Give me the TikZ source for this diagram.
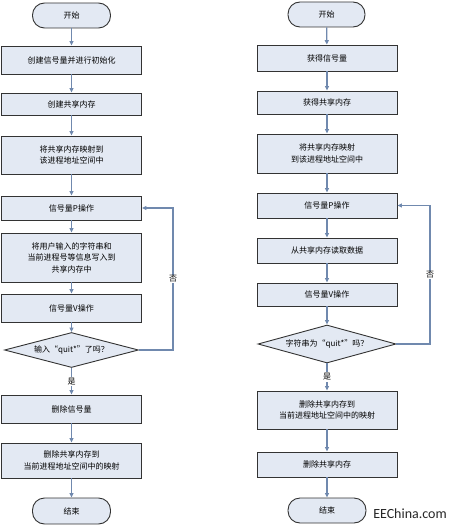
\documentclass[tikz,border=0pt]{standalone}
\usepackage{fontspec}
\newfontfamily\cjk{Noto Sans CJK SC}
\newfontfamily\logofont{Carlito}
\usetikzlibrary{arrows.meta, shapes.geometric}
\definecolor{cfill}{HTML}{E3E9F3}
\definecolor{cedge}{HTML}{333333}
\definecolor{cline}{HTML}{7089AE}
\tikzset{
  every picture/.style={font=\cjk\fontsize{8}{11.5}\selectfont, line width=0.9pt},
  box/.style={draw=cedge, fill=cfill, align=center, inner sep=2pt, minimum width=140pt, minimum height=#1},
  box/.default=26pt,
  term/.style={draw=cedge, fill=cfill, rounded corners=12pt, minimum width=78pt, minimum height=25pt},
  decision/.style={draw=cedge, fill=cfill, diamond, aspect=4, inner sep=0pt, minimum width=136pt, minimum height=36pt},
  arrow/.style={-{Triangle[length=4.5pt, width=4pt]}, draw=cline, line width=1.2pt},
  tag/.style={fill=white, inner sep=1pt},
  logo/.style={font=\logofont\fontsize{14}{14}\selectfont, text=black!85},
}

\begin{document}
\begin{tikzpicture}[x=1pt, y=-1pt]
  \useasboundingbox (0,0) rectangle (455,527);
  % left: writer
  \node[term] (ls) at (71.5,15.5) {开始};
  \node[box=28pt] (l1) at (71.5,60) {创建信号量并进行初始化};
  \node[box=22pt] (l2) at (71.5,104) {创建共享内存};
  \node[box=38pt] (l3) at (71.5,155) {将共享内存映射到\\该进程地址空间中};
  \node[box=24pt] (l4) at (71.5,208) {信号量P操作};
  \node[box=49pt] (l5) at (71.5,257.5) {将用户输入的字符串和\\当前进程号等信息写入到\\共享内存中};
  \node[box=28pt] (l6) at (71.5,308) {信号量V操作};
  \node[decision, minimum width=134pt, minimum height=35pt] (ld) at (71.5,350) {输入“quit*”了吗？};
  \node[box=28pt] (l7) at (71.5,409) {删除信号量};
  \node[box=35pt] (l8) at (71.5,460.5) {删除共享内存到\\当前进程地址空间中的映射};
  \node[term, minimum height=26pt] (le) at (71.5,511) {结束};
  \coordinate (lback) at (173,350);
  \draw[arrow] (ls) -- (l1);
  \draw[arrow] (l1) -- (l2);
  \draw[arrow] (l2) -- (l3);
  \draw[arrow] (l3) -- (l4);
  \draw[arrow] (l4) -- (l5);
  \draw[arrow] (l5) -- (l6);
  \draw[arrow] (l6) -- (ld);
  \draw[arrow] (ld) -- node[tag] (lyes) {是} (l7);
  \draw[arrow] (l7) -- (l8);
  \draw[arrow] (l8) -- (le);
  \draw[arrow] (ld.east) -- (lback) |- (l4.east);
  \node[tag] (lno) at (173,279) {否};
  % right: reader
  \node[term, minimum width=77pt] (rs) at (326.5,14.5) {开始};
  \node[box=26pt] (r1) at (327,58) {获得信号量};
  \node[box=23pt] (r2) at (327,102.5) {获得共享内存};
  \node[box=39pt] (r3) at (327,153.5) {将共享内存映射\\到该进程地址空间中};
  \node[box=25pt] (r4) at (327,205.5) {信号量P操作};
  \node[box=25pt] (r5) at (327,250.5) {从共享内存读取数据};
  \node[box=23pt] (r6) at (327,294.5) {信号量V操作};
  \node[decision, minimum width=138pt, minimum height=38pt] (rd) at (327,344) {字符串为“quit*”吗？};
  \node[box=38pt] (r7) at (327,410) {删除共享内存到\\当前进程地址空间中的映射};
  \node[box=25pt] (r8) at (327,464.5) {删除共享内存};
  \node[term] (re) at (327,510.5) {结束};
  \coordinate (rback) at (430,344);
  \draw[arrow] (rs) -- (r1);
  \draw[arrow] (r1) -- (r2);
  \draw[arrow] (r2) -- (r3);
  \draw[arrow] (r3) -- (r4);
  \draw[arrow] (r4) -- (r5);
  \draw[arrow] (r5) -- (r6);
  \draw[arrow] (r6) -- (rd);
  \draw[arrow] (rd) -- node[tag] (ryes) {是} (r7);
  \draw[arrow] (r7) -- (r8);
  \draw[arrow] (r8) -- (re);
  \draw[arrow] (rd.east) -- (rback) |- (r4.east);
  \node[tag] (rno) at (430,275) {否};
  \node[logo] (site) at (410,514) {EEChina.com};
\end{tikzpicture}
\end{document}
